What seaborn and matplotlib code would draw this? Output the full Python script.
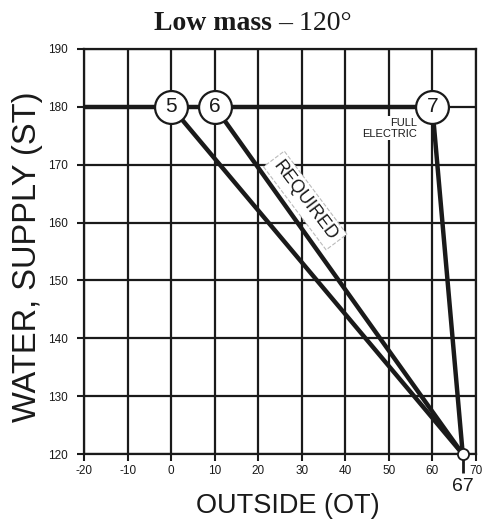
import pandas as pd
import seaborn as sns
import matplotlib.pyplot as plt

# =========================
# DATA
# =========================
curve_ids = ["5", "6", "7"]
ot_start = [0, 10, 60]          # outside temp where each curve hits max supply
st_start = [180, 180, 180]      # max water supply temp
ot_end = 67                     # warm weather shutdown
st_end = 120                    # design minimum supply
x_ticks = [-20, -10, 0, 10, 20, 30, 40, 50, 60, 70]
y_ticks = [120, 130, 140, 150, 160, 170, 180, 190]

rows = []
for cid, x0, y0 in zip(curve_ids, ot_start, st_start):
    rows.append({"curve": cid, "OT": x0, "ST": y0})
    rows.append({"curve": cid, "OT": ot_end, "ST": st_end})
df = pd.DataFrame(rows)

# =========================
# STYLE
# =========================
sns.set_style("ticks")
plt.rcParams["font.family"] = ["Liberation Sans", "DejaVu Sans"]
plt.rcParams["axes.unicode_minus"] = False

ink = "#1a1a1a"

fig = plt.figure(figsize=(4.89, 5.19), dpi=100)
ax = fig.add_axes([0.172, 0.125, 0.801, 0.781])

# =========================
# PLOT
# =========================
ax.set_xlim(x_ticks[0], x_ticks[-1])
ax.set_ylim(y_ticks[0], y_ticks[-1])
ax.set_xticks(x_ticks)
ax.set_yticks(y_ticks)
ax.grid(True, color=ink, linewidth=1.6)
ax.set_axisbelow(True)
for s in ax.spines.values():
    s.set_color(ink)
    s.set_linewidth(1.6)

# thick max-supply line up to the last curve
ax.plot([x_ticks[0], max(ot_start)], [st_start[0], st_start[0]],
        color=ink, linewidth=3.2, solid_capstyle="butt", zorder=3)

sns.lineplot(data=df, x="OT", y="ST", units="curve", estimator=None,
             color=ink, linewidth=3.2, ax=ax, zorder=3)

sns.scatterplot(x=ot_start, y=st_start, s=560, color="white",
                edgecolor=ink, linewidth=1.6, ax=ax, zorder=5)
for cid, x0, y0 in zip(curve_ids, ot_start, st_start):
    ax.text(x0, y0, cid, ha="center", va="center", fontsize=15,
            color=ink, zorder=6)

ax.plot([ot_end], [st_end], marker="o", markersize=8, markerfacecolor="white",
        markeredgecolor=ink, markeredgewidth=1.3, clip_on=False, zorder=6)

ax.text(30.8, 163.8, "REQUIRED", rotation=-53, ha="center", va="center",
        fontsize=13, color=ink, zorder=4,
        bbox=dict(boxstyle="square,pad=0.25", facecolor="white",
                  edgecolor="#bbbbbb", linestyle="--", linewidth=0.8))
ax.text(56.5, 176.3, "FULL\nELECTRIC", ha="right", va="center",
        fontsize=8, color=ink, zorder=4, linespacing=1.1,
        bbox=dict(boxstyle="square,pad=0.15", facecolor="white",
                  edgecolor="none"))

# ticks
ax.tick_params(axis="both", which="major", labelsize=8.5, length=5,
               width=1.5, color=ink, labelcolor=ink)
ax.tick_params(axis="x", which="major", pad=3)
ax.tick_params(axis="y", which="major", pad=7)
ax.set_xticks([ot_end], minor=True)
ax.set_xticklabels([str(ot_end)], minor=True)
ax.tick_params(axis="x", which="minor", length=14, width=2, color=ink,
               labelsize=14, pad=3, labelcolor=ink)

ax.set_xlabel("OUTSIDE (OT)", fontsize=19.5, color=ink)
ax.set_ylabel("WATER, SUPPLY (ST)", fontsize=23.5, color=ink)
ax.xaxis.set_label_coords(0.52, -0.095)
ax.yaxis.set_label_coords(-0.105, 0.486)

fig.text(272 / 489, 1 - 30 / 519, "Low mass", ha="right", va="baseline",
         fontsize=20, fontweight="bold", family="Liberation Serif", color=ink)
fig.text(278 / 489, 1 - 30 / 519, "\u2013 120\u00b0", ha="left", va="baseline",
         fontsize=20, family="Liberation Serif", color=ink)

plt.savefig("out.png", dpi=100)
